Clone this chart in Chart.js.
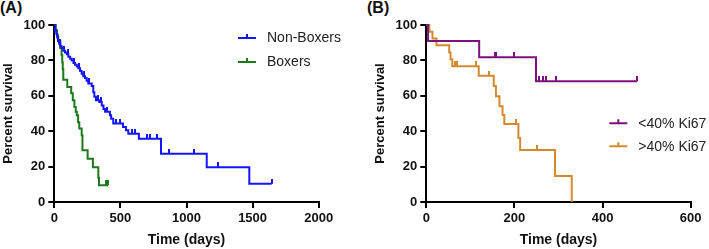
<!DOCTYPE html>
<html>
<head>
<meta charset="utf-8">
<script src="https://cdn.jsdelivr.net/npm/chart.js@4"></script>
<style>
  html, body { margin: 0; padding: 0; background: #fff; }
  body { width: 709px; height: 249px; position: relative; overflow: hidden; font-family: 'Liberation Sans', Arial, sans-serif; }
  .panel { position: absolute; top: 0; }
  .tag { position: absolute; top: 0; font-weight: bold; font-size: 16px; line-height: 16px; color: #111; }
</style>
</head>
<body>
<div class="tag" style="left:0">(A)</div>
<div class="tag" style="left:367px">(B)</div>
<canvas id="chartA" class="panel" style="left:0" width="355" height="249"></canvas>
<canvas id="chartB" class="panel" style="left:372px" width="337" height="249"></canvas>
<script>
// Panel A: Kaplan-Meier steps (day of drop, survival after drop) and censored days
const nonBoxerDays = [0, 8, 15, 22, 28, 35, 45, 56, 68, 81, 95, 106, 120, 132, 145, 157, 170, 182, 195, 207, 219, 232, 245, 257, 283, 295, 303, 315, 340, 359, 372, 384, 421, 430, 446, 520, 542, 560, 640, 807, 1153, 1475, 1644];
const nonBoxerSurv = [100, 97, 95, 93, 91, 89.5, 88, 87, 85.5, 84.5, 83.5, 82, 81, 80, 78.5, 77.5, 76.5, 75.5, 74, 72.5, 71, 70, 68.5, 67, 65.5, 62, 59.5, 57.5, 56.5, 54.5, 52.5, 51, 49, 47, 44.3, 42.4, 40.5, 38.6, 35.8, 27.3, 19.7, 10.3, 10.3];
const nonBoxerCensor = [40, 75, 100, 150, 190, 228, 262, 330, 350, 395, 470, 495, 585, 610, 700, 725, 775, 870, 1057, 1236, 1644];

const boxerDays = [0, 10, 20, 30, 45, 55, 60, 64, 68, 98, 128, 140, 152, 162, 170, 180, 189, 207, 213, 252, 292, 333, 338, 406];
const boxerSurv = [100, 97, 94, 91, 87, 83, 79, 75, 69, 65, 61.5, 57.5, 53.7, 51, 49, 45, 41.5, 37.7, 29.2, 24.5, 19.7, 13.7, 9.5, 9.5];
const boxerCensor = [391, 406];

// Panel B
const lowKiDays = [0, 4, 120, 249, 478];
const lowKiSurv = [100, 90.9, 81.8, 68.2, 68.2];
const lowKiCensor = [155, 159, 198, 256, 265, 272, 295, 478];

const highKiDays = [0, 7, 14, 23, 52, 55, 59, 119, 153, 158, 166, 173, 177, 209, 213, 292, 330];
const highKiSurv = [100, 96.2, 92.4, 88.6, 84.6, 80.6, 76.7, 71.3, 65.6, 59.8, 54.1, 49.2, 44, 36.2, 29.4, 14.7, 0];
const highKiCensor = [66, 70, 113, 142, 204, 251];

Chart.defaults.font.family = "'Liberation Sans', Arial, sans-serif";

function stepValue(days, surv, t) {
    let v = surv[0];
    for (let i = 0; i < days.length; i++) if (days[i] <= t) v = surv[i];
    return v;
}

// small upward tick used as censor mark
function tickMark(color) {
    const c = document.createElement('canvas');
    c.width = 2; c.height = 10;
    const g = c.getContext('2d');
    g.fillStyle = color;
    g.fillRect(0, 0, 2, 5);
    return c;
}

function kmDatasets(label, color, days, surv, censor) {
    return [{
        label: label,
        data: days.map((d, i) => ({ x: d, y: surv[i] })),
        borderColor: color, borderWidth: 2, stepped: true,
        pointRadius: 0, fill: false, clip: 4
    }, {
        label: label + ' censored',
        data: censor.map(t => ({ x: t, y: stepValue(days, surv, t) })),
        showLine: false, pointStyle: tickMark(color), pointRadius: 3, clip: 8
    }];
}

function axes(xMax, xStep) {
    const font = { size: 13, weight: 'bold' };
    const grid = { drawOnChartArea: false, drawTicks: true, tickLength: 6, color: '#000', lineWidth: 2 };
    const border = { display: true, color: '#000', width: 2 };
    return {
        x: {
            type: 'linear', min: 0, max: xMax, grid, border,
            ticks: { stepSize: xStep, font, color: '#111', padding: 3, maxRotation: 0, callback: v => String(v) },
            title: { display: true, text: 'Time (days)', font: { size: 14, weight: 'bold' }, color: '#111', padding: { top: 0, bottom: 0 } },
            afterFit: s => { s.height = 47; }
        },
        y: {
            min: 0, max: 100, grid, border,
            ticks: { stepSize: 20, font, color: '#111', padding: 3 },
            title: { display: true, text: 'Percent survival', font: { size: 13, weight: 'bold' }, color: '#111', padding: { top: 1, bottom: 0 } },
            afterFit: s => { s.width = 54.3; }
        }
    };
}

// legend drawn by hand so it can sit inside the plot like the original
const kmLegend = {
    id: 'kmLegend',
    afterDraw(chart, args, opts) {
        const ctx = chart.ctx;
        ctx.save();
        ctx.font = "14px 'Liberation Sans', Arial, sans-serif";
        ctx.textBaseline = 'middle';
        chart.data.datasets.filter(d => d.showLine !== false).forEach((d, i) => {
            const y = opts.y + i * opts.gap;
            ctx.strokeStyle = d.borderColor;
            ctx.lineWidth = 2;
            ctx.beginPath();
            ctx.moveTo(opts.x, y); ctx.lineTo(opts.x + 18, y);
            ctx.moveTo(opts.x + 9, y); ctx.lineTo(opts.x + 9, y - 4);
            ctx.stroke();
            ctx.fillStyle = '#222';
            ctx.fillText(d.label, opts.x + 29, y + 0.5);
        });
        ctx.restore();
    }
};

function makeChart(id, datasets, xMax, xStep, padRight, legendPos) {
    return new Chart(document.getElementById(id), {
        type: 'line',
        data: { datasets },
        options: {
            responsive: false, animation: false, devicePixelRatio: 1,
            layout: { padding: { left: 0, top: 25, right: padRight, bottom: 0 } },
            scales: axes(xMax, xStep),
            plugins: { legend: { display: false }, tooltip: { enabled: false }, kmLegend: legendPos }
        },
        plugins: [kmLegend]
    });
}

makeChart('chartA', [
    ...kmDatasets('Non-Boxers', '#1414ff', nonBoxerDays, nonBoxerSurv, nonBoxerCensor),
    ...kmDatasets('Boxers', '#1c7a1c', boxerDays, boxerSurv, boxerCensor)
], 2000, 500, 36.3, { x: 238, y: 38, gap: 24 });

makeChart('chartB', [
    ...kmDatasets('<40% Ki67', '#7d127f', lowKiDays, lowKiSurv, lowKiCensor),
    ...kmDatasets('>40% Ki67', '#d3892d', highKiDays, highKiSurv, highKiCensor)
], 600, 200, 18.3, { x: 237.3, y: 123.3, gap: 23 });
</script>
</body>
</html>
